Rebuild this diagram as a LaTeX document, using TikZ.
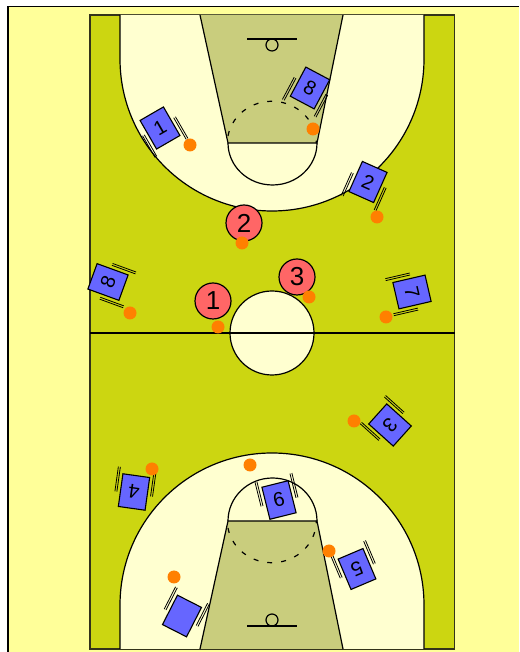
\documentclass[tikz,border=0pt]{standalone}
\usepackage{xcolor}
\usepackage{fontspec}
\setmainfont{Liberation Sans}
\definecolor{sand}{HTML}{FFFF99}
\definecolor{floor}{HTML}{CCD611}
\definecolor{lane}{HTML}{C9CD7D}
\definecolor{zone}{HTML}{FFFFD0}
\definecolor{guard}{HTML}{6666FF}
\definecolor{attack}{HTML}{FF6666}
\definecolor{leather}{HTML}{FF8000}
\definecolor{edge}{HTML}{33331A}

\begin{document}
\begin{tikzpicture}[
          x=1pt,y=1pt,
          court/.style={line width=1.2pt},
          defender/.style={draw,fill=guard,line width=1.1pt,inner sep=0pt,
                      minimum width=27pt,minimum height=33pt,font=\fontsize{20}{20}\selectfont},
          arm/.style={line width=0.8pt},
          attacker/.style={draw,circle,fill=attack,line width=1.2pt,inner sep=0pt,
                      minimum size=36pt,font=\fontsize{26}{26}\selectfont},
          ball/.style={circle,fill=leather,inner sep=0pt,minimum size=13pt},
      ]
        \useasboundingbox (0,0) rectangle (519,652);

        % surround
        \fill[sand] (8,0) rectangle (519,645.5);
        \draw[line width=1.2pt] (8,0) -- (8,645.5) -- (519,645.5);

        % floor
        \draw[edge,line width=1.5pt,fill=floor] (90,3) rectangle (454.5,637);

        % upper half
        \draw[court,fill=zone] (120,637) -- (120,593) arc[start angle=180,end angle=360,radius=152] -- (424,637);
        \draw[court,fill=zone] (228,509) arc[start angle=180,end angle=360,x radius=44.5,y radius=42];
        \draw[court,fill=lane] (200,637) -- (228,509) -- (317,509) -- (343,637);
        \draw[court,dash pattern=on 5pt off 9pt] (228,516) arc[start angle=170,end angle=0,x radius=44.5,y radius=42];
        \draw[court] (247,613) -- (297,613);
        \draw[court] (272,607) circle (6);

        % lower half
        \draw[court,fill=zone] (120,3) -- (120,47) arc[start angle=180,end angle=0,radius=152] -- (424,3);
        \draw[court,fill=zone] (228,131) arc[start angle=180,end angle=0,x radius=44.5,y radius=43];
        \draw[court,fill=lane] (200,3) -- (228,131) -- (317,131) -- (343,3);
        \draw[court,dash pattern=on 5pt off 9pt] (228,124) arc[start angle=190,end angle=360,x radius=44.5,y radius=42];
        \draw[court] (247,26) -- (297,26);
        \draw[court] (272,32) circle (6);

        % centre
        \draw[court,fill=zone] (272,319) circle (42);
        \draw[court] (90,319) -- (454.5,319);

        % defenders, turned so the arms point at the ball
        \foreach \i/\x/\y/\r/\t in {1/160/524/30/1,2/310/564/-28/8,3/368/470/-24/2,
            4/108/370/70/8,5/412/360/-77/7,6/390/227/-132/3,7/134/160/172/4,
            8/279/152/194/9,9/357/83/-157/5,10/182/36/153/{}} {
          \node[defender,rotate=\r] (d\i) at (\x,\y) {\t};
          \foreach \s in {-19,-17,17,19}
            \draw[arm,shift={(d\i.center)},rotate=\r] (\s,2) -- (\s,-23);
        }

        % attackers
        \node[attacker] (a1) at (213,351) {1};
        \node[attacker] (a2) at (244,429) {2};
        \node[attacker] (a3) at (297,375) {3};

        % balls
        \foreach \i/\x/\y in {1/190/507,2/313/523,3/377/435,4/242/409,5/309/355,
            6/218/325,7/130/339,8/386/335,9/354/231,10/152/183,11/250/187,
            12/329/101,13/174/75}
          \node[ball] (b\i) at (\x,\y) {};
      \end{tikzpicture}
\end{document}
